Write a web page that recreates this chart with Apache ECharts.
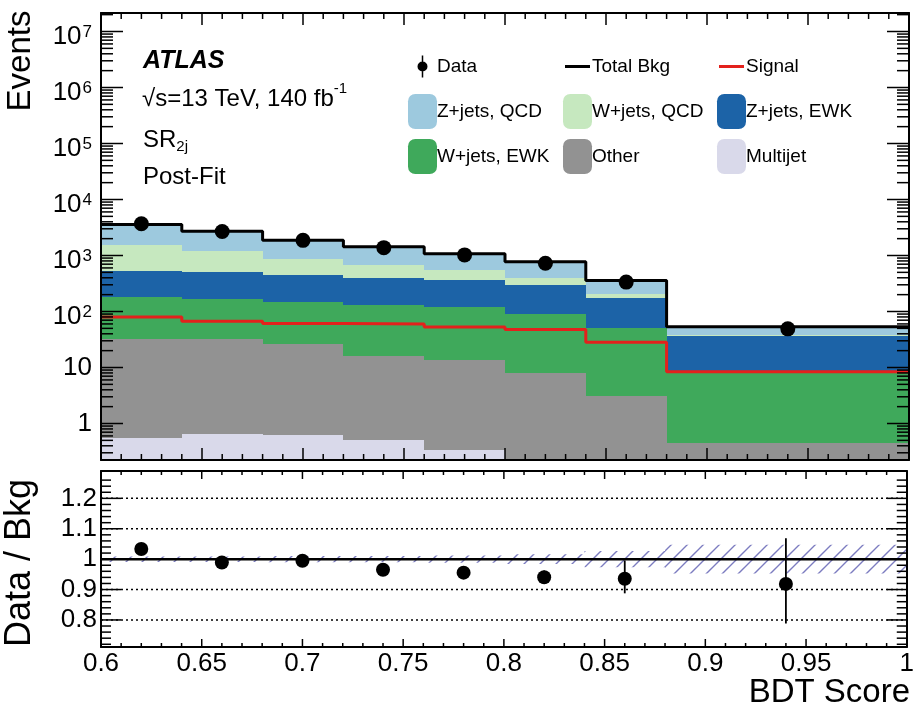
<!DOCTYPE html>
<html><head><meta charset="utf-8">
<script src="https://cdn.jsdelivr.net/npm/echarts@6/dist/echarts.min.js"></script>
<style>html,body{margin:0;padding:0;background:#fff}#c{width:917px;height:712px}</style>
</head><body><div id="c"></div>
<script>
// ---------------- data ----------------
const binEdges   = [0.6, 0.64, 0.68, 0.72, 0.76, 0.80, 0.84, 0.88, 1.0];
const binCenters = [0.62, 0.66, 0.70, 0.74, 0.78, 0.82, 0.86, 0.94];
const multijet = [0.54, 0.64, 0.62, 0.50, 0.34, 0, 0, 0];
const other    = [32.1, 31.0, 25.2, 15.4, 13.2, 8.0, 3.08, 0.44];
const wjetsEWK = [147, 139, 123, 114, 107, 83, 48, 8.2];
const zjetsEWK = [345, 332, 296, 264, 241, 212, 120, 27.6];
const wjetsQCD = [1046, 692, 428, 288, 185, 97, 36, 2.6];
const zjetsQCD = [2009, 1525, 1002, 748, 525, 373, 151, 14.5];
const signal   = [80, 67, 61, 60, 53, 47.7, 28.3, 8.4];
const dataEvents = [3700, 2690, 1865, 1380, 1024, 727, 335, 49];
const ratioErrUp   = [0.01, 0.012, 0.014, 0.016, 0.018, 0.022, 0.06, 0.15];
const ratioErrDown = [0.01, 0.012, 0.014, 0.016, 0.018, 0.022, 0.048, 0.13];
const bkgUnc = [0.009, 0.009, 0.010, 0.010, 0.012, 0.016, 0.027, 0.047];
const ratioTickLabels = [0.8, 0.9, 1.0, 1.1, 1.2];
const ratioGridLines = [0.8, 0.9, 1.1, 1.2];

// ---------------- styling ----------------
const FONT = "'Liberation Sans', Arial, sans-serif";
function hasFont(f){const c=document.createElement('canvas').getContext('2d');c.font='40px monospace';const w1=c.measureText('abcdefgWMil').width;c.font='40px "'+f+'", monospace';return c.measureText('abcdefgWMil').width!==w1;}
const NARROW = hasFont('Liberation Sans Narrow');
const TFONT = NARROW ? "'Liberation Sans Narrow', sans-serif" : FONT;
const TS = NARROW ? {ev:39, db:42, bdt:39} : {ev:33, db:36, bdt:33};

const XMIN = 0.6, XMAX = 1.0, YMIN = 0.223, YMAX = 2.14e7, RMIN = 0.711, RMAX = 1.29;

const components = [
  {name:'Multijet',    values:multijet, color:'#d9d9ea'},
  {name:'Other',       values:other,    color:'#929292'},
  {name:'W+jets, EWK', values:wjetsEWK, color:'#3fa95b'},
  {name:'Z+jets, EWK', values:zjetsEWK, color:'#1c63a7'},
  {name:'W+jets, QCD', values:wjetsQCD, color:'#c6e8bf'},
  {name:'Z+jets, QCD', values:zjetsQCD, color:'#9dc9de'}
];
const cum = new Array(binCenters.length).fill(0);
components.forEach(c => {
  c.rows = c.values.map((v, i) => {
    const lo = cum[i]; cum[i] += v;
    return [binEdges[i], binEdges[i+1], Math.max(lo, YMIN), Math.max(cum[i], YMIN)];
  });
});
const total = cum.slice();
const ratio = dataEvents.map((d, i) => d / total[i]);

function stepData(vals){ const r = vals.map((v,i)=>[binEdges[i], v]); r.push([binEdges[binEdges.length-1], vals[vals.length-1]]); return r; }

// hatch pattern
const pc = document.createElement('canvas'); pc.width = 16; pc.height = 16;
(function(){const g=pc.getContext('2d'); g.strokeStyle='rgba(110,110,185,0.9)'; g.lineWidth=1.4; g.beginPath();
 g.moveTo(0,16); g.lineTo(16,0); g.moveTo(-4,4); g.lineTo(4,-4); g.moveTo(12,20); g.lineTo(20,12); g.stroke();})();

function rectRender(params, api){
  const p0 = api.coord([api.value(0), api.value(3)]);
  const p1 = api.coord([api.value(1), api.value(2)]);
  if (!(p1[1] - p0[1] > 0.01)) return {type:'group', children:[]};
  const x0 = Math.round(p0[0]), x1 = Math.round(p1[0]), y0 = Math.round(p0[1]), y1 = Math.round(p1[1]);
  return {type:'rect', shape:{x:x0, y:y0, width:x1-x0, height:y1-y0}, style:{fill: api.visual('color')}};
}

// ticks
function tickRows(xMajorLen, xMinorLen, yTicks){
  const rows = [];
  for (let k = 1; k < 40; k++){ const v = +(0.6 + k*0.01).toFixed(2); rows.push([v, 1, 0, (k%5===0)? xMajorLen : xMinorLen]); }
  yTicks.forEach(t => rows.push([XMIN, t[0], 1, t[1]]));
  return rows;
}
const mainYTicks = [];
for (let e = -1; e <= 7; e++) for (let m = 1; m <= 9; m++){ const v = m*Math.pow(10,e); if (v > YMIN*1.01 && v < YMAX*0.99) mainYTicks.push([v, m===1?22:12]); }
const ratioYTicks = [];
for (let k = 1; k < 29; k++){ const v = +(0.70 + k*0.02).toFixed(2); if (v > RMIN && v < RMAX) ratioYTicks.push([v, (Math.abs(v*10 - Math.round(v*10))<1e-6)?20:10]); }
function tickRender(params, api){
  const cs = params.coordSys; const kind = api.value(2), len = api.value(3);
  const st = {stroke:'#000', lineWidth:1.5};
  if (kind === 0){
    const px = api.coord([api.value(0), api.value(1)])[0];
    return {type:'group', children:[
      {type:'line', shape:{x1:px, y1:cs.y+cs.height, x2:px, y2:cs.y+cs.height-len}, style:st},
      {type:'line', shape:{x1:px, y1:cs.y, x2:px, y2:cs.y+len}, style:st}]};
  }
  const py = api.coord([api.value(0), api.value(1)])[1];
  return {type:'group', children:[
    {type:'line', shape:{x1:cs.x, y1:py, x2:cs.x+len, y2:py}, style:st},
    {type:'line', shape:{x1:cs.x+cs.width, y1:py, x2:cs.x+cs.width-len, y2:py}, style:st}]};
}

const axLine = {show:true, onZero:false, lineStyle:{color:'#000', width:2}};
const noTick = {show:false};
const noSplit = {show:false};

function logLabel(v){
  const l = Math.log10(v); const e = Math.round(l);
  if (Math.abs(l - e) > 1e-6) return '';
  if (e === 0) return '{b0|1}';
  if (e === 1) return '{b0|10}';
  return '{b|10}{s|' + e + '}';
}

const series = [];
components.forEach(c => series.push({
  name:c.name, type:'custom', xAxisIndex:0, yAxisIndex:0, renderItem:rectRender,
  encode:{x:[0,1], y:[2,3]}, itemStyle:{color:c.color}, data:c.rows, z:2, silent:true
}));
series.push({name:'Signal', type:'line', xAxisIndex:0, yAxisIndex:0, step:'end', data:stepData(signal), showSymbol:false, symbol:'none',
  itemStyle:{color:'#e3211c'}, lineStyle:{color:'#e3211c', width:3}, z:4, silent:true});
series.push({name:'Total Bkg', type:'line', xAxisIndex:0, yAxisIndex:0, step:'end', data:stepData(total), showSymbol:false, symbol:'none',
  itemStyle:{color:'#000'}, lineStyle:{color:'#000', width:3}, z:5, silent:true});
series.push({name:'Data', type:'scatter', xAxisIndex:0, yAxisIndex:0, data:dataEvents.map((v,i)=>[binCenters[i], v]),
  symbol:'circle', symbolSize:15, itemStyle:{color:'#000', opacity:1}, z:6, silent:true});
series.push({name:'ticksMain', type:'custom', xAxisIndex:0, yAxisIndex:0, renderItem:tickRender,
  data:tickRows(12, 6, mainYTicks), z:20, silent:true});
// ratio panel
series.push({name:'gridR', type:'custom', xAxisIndex:2, yAxisIndex:2, silent:true, z:1,
  data:ratioGridLines.map(v=>[XMIN, v]),
  renderItem:function(params, api){ const a = api.coord([XMIN, api.value(1)]), b = api.coord([XMAX, api.value(1)]);
    return {type:'line', shape:{x1:a[0], y1:a[1], x2:b[0], y2:b[1]}, style:{stroke:'#000', lineWidth:1.5, lineDash:[2,3]}}; }});
series.push({name:'bandR', type:'custom', xAxisIndex:2, yAxisIndex:2, silent:true, z:2,
  encode:{x:[0,1], y:[2,3]},
  data:bkgUnc.map((u,i)=>[binEdges[i], binEdges[i+1], 1-u, 1+u]),
  renderItem:function(params, api){
    const p0 = api.coord([api.value(0), api.value(3)]), p1 = api.coord([api.value(1), api.value(2)]);
    return {type:'rect', shape:{x:p0[0], y:p0[1], width:p1[0]-p0[0], height:p1[1]-p0[1]}, style:{fill:{image:pc, repeat:'repeat'}}}; }});
series.push({name:'unity', type:'line', xAxisIndex:2, yAxisIndex:2, data:[[XMIN,1],[XMAX,1]], symbol:'none', showSymbol:false,
  lineStyle:{color:'#000', width:2.5}, z:3, silent:true});
series.push({name:'errR', type:'custom', xAxisIndex:2, yAxisIndex:2, silent:true, z:4,
  encode:{x:0, y:[1,2]},
  data:ratio.map((r,i)=>[binCenters[i], r-ratioErrDown[i], r+ratioErrUp[i]]),
  renderItem:function(params, api){ const a = api.coord([api.value(0), api.value(1)]), b = api.coord([api.value(0), api.value(2)]);
    return {type:'line', shape:{x1:a[0], y1:a[1], x2:b[0], y2:b[1]}, style:{stroke:'#000', lineWidth:1.8}}; }});
series.push({name:'ratio', type:'scatter', xAxisIndex:2, yAxisIndex:2, data:ratio.map((r,i)=>[binCenters[i], r]),
  symbol:'circle', symbolSize:14, itemStyle:{color:'#000', opacity:1}, z:5, silent:true});
series.push({name:'ticksRatio', type:'custom', xAxisIndex:2, yAxisIndex:2, renderItem:tickRender,
  data:tickRows(8, 4, ratioYTicks), z:20, silent:true});

const boxIcon = 'roundRect';
const dataIcon = 'path://M0,0M29,35M13.75,6.5H15.25V28.5H13.75Z M9.5,17.5A5,5 0 1 1 19.5,17.5A5,5 0 1 1 9.5,17.5Z';
const lineIcon = 'path://M0,0M29,35M2,16H27V19H2Z';
function legendCol(left, items){
  return {left:left, top:44, orient:'vertical', itemWidth:29, itemHeight:35, itemGap:10, selectedMode:false,
    textStyle:{fontSize:19, color:'#000', fontFamily:FONT, padding:[0,0,0,-5]}, data:items};
}

const option = {
  animation:false,
  backgroundColor:'#fff',
  grid:[{left:101, top:13, width:808, height:447}, {left:101, top:471, width:808, height:176}],
  xAxis:[
    {gridIndex:0, type:'value', min:XMIN, max:XMAX, position:'bottom', axisLine:axLine, axisTick:noTick, splitLine:noSplit, axisLabel:{show:false}, z:10},
    {gridIndex:0, type:'value', min:XMIN, max:XMAX, position:'top', axisLine:axLine, axisTick:noTick, splitLine:noSplit, axisLabel:{show:false}, z:10},
    {gridIndex:1, type:'value', min:XMIN, max:XMAX, interval:0.05, position:'bottom', axisLine:axLine, axisTick:noTick, splitLine:noSplit,
      axisLabel:{show:true, fontSize:26, color:'#000', fontFamily:FONT, margin:4}, z:10},
    {gridIndex:1, type:'value', min:XMIN, max:XMAX, position:'top', axisLine:axLine, axisTick:noTick, splitLine:noSplit, axisLabel:{show:false}, z:10}
  ],
  yAxis:[
    {gridIndex:0, type:'log', logBase:10, min:YMIN, max:YMAX, position:'left', axisLine:axLine, axisTick:noTick, splitLine:noSplit, z:10,
      axisLabel:{show:true, margin:9, formatter:logLabel, color:'#000',
        rich:{b0:{fontSize:26, fontFamily:FONT, color:'#000'},
              b:{fontSize:26, fontFamily:FONT, color:'#000', verticalAlign:'bottom'},
              s:{fontSize:17, fontFamily:FONT, color:'#000', verticalAlign:'top', lineHeight:36, padding:[10,0,0,1]}}}},
    {gridIndex:0, type:'log', logBase:10, min:YMIN, max:YMAX, position:'right', axisLine:axLine, axisTick:noTick, splitLine:noSplit, axisLabel:{show:false}, z:10},
    {gridIndex:1, type:'value', min:RMIN, max:RMAX, position:'left', axisLine:axLine, axisTick:noTick, splitLine:noSplit, z:10,
      axisLabel:{show:true, customValues:ratioTickLabels, fontSize:26, color:'#000', fontFamily:FONT, margin:4}},
    {gridIndex:1, type:'value', min:RMIN, max:RMAX, position:'right', axisLine:axLine, axisTick:noTick, splitLine:noSplit, axisLabel:{show:false}, z:10}
  ],
  legend:[
    legendCol(403, [{name:'Data', icon:dataIcon}, {name:'Z+jets, QCD', icon:boxIcon}, {name:'W+jets, EWK', icon:boxIcon}]),
    legendCol(558, [{name:'Total Bkg', icon:lineIcon}, {name:'W+jets, QCD', icon:boxIcon}, {name:'Other', icon:boxIcon}]),
    legendCol(712, [{name:'Signal', icon:lineIcon}, {name:'Z+jets, EWK', icon:boxIcon}, {name:'Multijet', icon:boxIcon}])
  ],
  graphic:[
    {type:'text', x:143, y:61, style:{text:'ATLAS', fontSize:25, fontWeight:'bold', fontStyle:'italic', fontFamily:FONT, fill:'#000', verticalAlign:'middle'}},
    {type:'text', x:142, y:96, style:{text:'{n|√s=13 TeV, 140 fb}{s|-1}', verticalAlign:'middle',
      rich:{n:{fontSize:24, fontFamily:FONT, fill:'#000', verticalAlign:'bottom', lineHeight:30}, s:{fontSize:15, fontFamily:FONT, fill:'#000', verticalAlign:'top', lineHeight:16}}}},
    {type:'text', x:143, y:141, style:{text:'{n|SR}{s|2j}', verticalAlign:'middle',
      rich:{n:{fontSize:24, fontFamily:FONT, fill:'#000', verticalAlign:'top', lineHeight:26}, s:{fontSize:15, fontFamily:FONT, fill:'#000', verticalAlign:'bottom', lineHeight:16}}}},
    {type:'text', x:143, y:177, style:{text:'Post-Fit', fontSize:24, fontFamily:FONT, fill:'#000', verticalAlign:'middle'}},
    {type:'text', x:20.5, y:61, rotation:Math.PI/2, style:{text:'Events', fontSize:TS.ev, fontFamily:TFONT, fill:'#000', align:'center', verticalAlign:'middle'}},
    {type:'text', x:20, y:563, rotation:Math.PI/2, style:{text:'Data / Bkg', fontSize:TS.db, fontFamily:TFONT, fill:'#000', align:'center', verticalAlign:'middle'}},
    {type:'text', x:910, y:693, style:{text:'BDT Score', fontSize:TS.bdt, fontFamily:TFONT, fill:'#000', align:'right', verticalAlign:'middle'}}
  ],
  series:series
};
const chart = echarts.init(document.getElementById('c'), null, {renderer:'canvas'});
chart.setOption(option);
</script>
</body></html>
